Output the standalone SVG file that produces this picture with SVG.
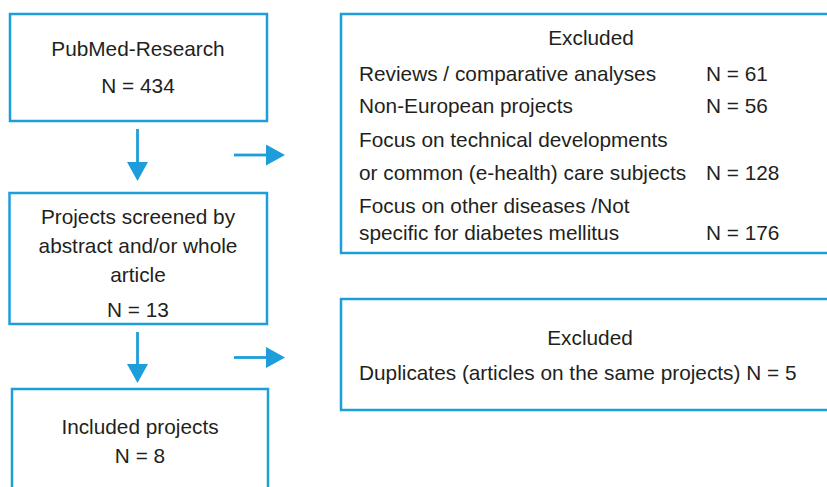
<svg xmlns="http://www.w3.org/2000/svg" width="827" height="487" viewBox="0 0 827 487">
<style>
.box{fill:#ffffff;stroke:#1e9ddb;stroke-width:2.5}
.conn{stroke:#1e9ddb;stroke-width:2.8;fill:none}
text{font-family:"Liberation Sans",Arial,sans-serif;font-size:20.8px;fill:#231f20}
.c{text-anchor:middle}
</style>
<defs>
<marker id="ah" markerUnits="userSpaceOnUse" markerWidth="19" markerHeight="21" refX="0" refY="10.5" orient="auto" viewBox="0 0 19 21">
<path d="M0,0 L19,10.5 L0,21 Z" fill="#1e9ddb"/>
</marker>
</defs>
<rect width="827" height="487" fill="#ffffff"/>
<g id="connectors">
<line class="conn" x1="137.5" y1="129" x2="137.5" y2="162" marker-end="url(#ah)"/>
<line class="conn" x1="234" y1="155" x2="266" y2="155" marker-end="url(#ah)"/>
<line class="conn" x1="137.5" y1="332" x2="137.5" y2="364" marker-end="url(#ah)"/>
<line class="conn" x1="234" y1="357.5" x2="266" y2="357.5" marker-end="url(#ah)"/>
</g>
<g id="pubmed">
<rect class="box" x="10" y="14" width="257" height="107"/>
<text class="c" x="138" y="56">PubMed-Research</text>
<text class="c" x="138" y="92.5">N = 434</text>
</g>
<g id="screened">
<rect class="box" x="9.5" y="193" width="257.5" height="131"/>
<text class="c" x="138" y="224">Projects screened by</text>
<text class="c" x="138" y="252.5">abstract and/or whole</text>
<text class="c" x="138" y="281.5">article</text>
<text class="c" x="138" y="316.5">N = 13</text>
</g>
<g id="included">
<rect class="box" x="12" y="389" width="256" height="130"/>
<text class="c" x="140" y="434">Included projects</text>
<text class="c" x="140" y="463">N = 8</text>
</g>
<g id="excluded1">
<rect class="box" x="341" y="14" width="500" height="239"/>
<text class="c" x="591" y="45">Excluded</text>
<text x="359" y="80.5">Reviews / comparative analyses</text>
<text x="706" y="80.5">N = 61</text>
<text x="359" y="113">Non-European projects</text>
<text x="706" y="113">N = 56</text>
<text x="359" y="147">Focus on technical developments</text>
<text x="359" y="180">or common (e-health) care subjects</text>
<text x="706" y="180">N = 128</text>
<text x="359" y="213">Focus on other diseases /Not</text>
<text x="359" y="240">specific for diabetes mellitus</text>
<text x="706" y="240">N = 176</text>
</g>
<g id="excluded2">
<rect class="box" x="341" y="299" width="500" height="111"/>
<text class="c" x="590" y="344.5">Excluded</text>
<text x="359" y="379.5">Duplicates (articles on the same projects) N = 5</text>
</g>
</svg>
